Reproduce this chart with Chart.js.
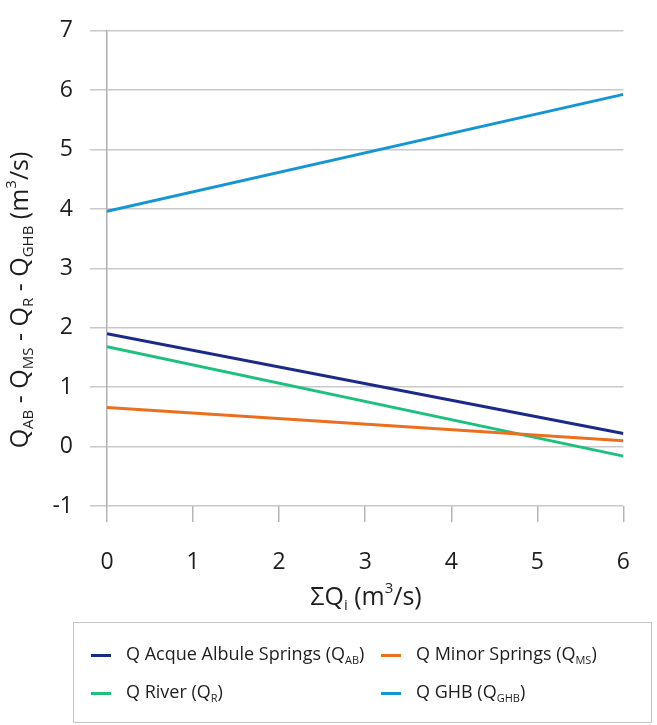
<!DOCTYPE html>
<html>
<head>
<meta charset="utf-8">
<script src="https://cdn.jsdelivr.net/npm/chart.js@4"></script>
<style>
  body { margin: 0; background: #fff; }
  #wrap { position: relative; width: 657px; height: 725px; }
  #legend {
    position: absolute; left: 73px; top: 622px; width: 579px; height: 101px;
    border: 1.5px solid #c4c4c4; box-sizing: border-box;
    font-family: "Open Sans", sans-serif; font-size: 18px; color: #1e1e1e;
  }
  .item { position: absolute; white-space: nowrap; line-height: 24px; }
  .sw { display: inline-block; width: 20px; height: 3px; vertical-align: middle; margin-right: 15px; }
  sub { font-size: 11px; vertical-align: -4px; }
</style>
</head>
<body>
<div id="wrap">
  <canvas id="myChart" width="657" height="725"></canvas>
  <div id="legend"></div>
</div>
<script>
// values (lines are straight, so two ends each)
const xValues = [0, 6];
const qAB = [1.9, 0.22];
const qMS = [0.66, 0.1];
const qR = [1.68, -0.16];
const qGHB = [3.96, 5.93];

const seriesNames = ["Q Acque Albule Springs", "Q Minor Springs", "Q River", "Q GHB"];
const seriesSubs = ["AB", "MS", "R", "GHB"];
const seriesColors = ["#1b2a88", "#ea7020", "#1fc07f", "#1795d3"];
const seriesData = [qAB, qMS, qR, qGHB];

const xTicks = [0, 1, 2, 3, 4, 5, 6];
const yTicks = [-1, 0, 1, 2, 3, 4, 5, 6, 7];

const FONT = '"Open Sans", sans-serif';

// draws text made of pieces, some of them sub/superscript
function drawRich(ctx, parts, size) {
    let total = 0;
    parts.forEach(p => {
        ctx.font = (p[1] ? Math.round(size * 0.6) : size) + 'px ' + FONT;
        p.w = ctx.measureText(p[0]).width;
        total += p.w;
    });
    let x = -total / 2;
    parts.forEach(p => {
        ctx.font = (p[1] ? Math.round(size * 0.6) : size) + 'px ' + FONT;
        let dy = 0;
        if (p[1] === 'sub') dy = size * 0.3;
        if (p[1] === 'sup') dy = -size * 0.38;
        ctx.fillText(p[0], x, dy);
        x += p.w;
    });
}

const titlesPlugin = {
    id: 'titles',
    afterDraw(chart) {
        const ctx = chart.ctx;
        ctx.save();
        ctx.fillStyle = '#1e1e1e';
        ctx.textBaseline = 'middle';
        ctx.textAlign = 'left';
        // y axis title
        ctx.save();
        ctx.translate(21, 300);
        ctx.rotate(-Math.PI / 2);
        const yParts = [['Q'], ['AB', 'sub'], [' - Q'], ['MS', 'sub'], [' - Q'], ['R', 'sub'],
            [' - Q'], ['GHB', 'sub'], [' (m'], ['3', 'sup'], ['/s)']];
        drawRich(ctx, yParts, 25);
        ctx.restore();
        // x axis title
        ctx.save();
        ctx.translate(366, 598);
        drawRich(ctx, [['\u03A3Q'], ['i', 'sub'], [' (m'], ['3', 'sup'], ['/s)']], 25);
        ctx.restore();
        ctx.restore();
    }
};

const data = {
    datasets: seriesData.map((vals, i) => ({
        label: seriesNames[i] + ' (Q' + seriesSubs[i] + ')',
        data: xValues.map((x, j) => ({ x: x, y: vals[j] })),
        borderColor: seriesColors[i],
        backgroundColor: seriesColors[i],
        borderWidth: 3,
        pointRadius: 0,
        tension: 0
    }))
};

const config = {
    type: 'line',
    data,
    options: {
        responsive: false,
        animation: false,
        layout: { padding: { left: 0, right: 30, top: 17, bottom: 0 } },
        plugins: { legend: { display: false }, tooltip: { enabled: false } },
        scales: {
            x: {
                type: 'linear', min: 0, max: 6,
                afterBuildTicks: s => { s.ticks = xTicks.map(v => ({ value: v })); },
                afterFit: s => { s.height = 219; },
                grid: { drawOnChartArea: false, drawTicks: true, tickLength: 16, color: '#b5b5b5', lineWidth: 1.5 },
                border: { display: false },
                ticks: { padding: 27, color: '#1e1e1e', font: { family: FONT, size: 23 } }
            },
            y: {
                min: -1, max: 7,
                afterBuildTicks: s => { s.ticks = yTicks.map(v => ({ value: v })); },
                afterFit: s => { s.width = 107; },
                grid: { color: '#c9c9c9', lineWidth: 1.5, tickLength: 17 },
                border: { display: true, color: '#b0b0b0', width: 1.5 },
                ticks: { padding: 17, color: '#1e1e1e', font: { family: FONT, size: 23 } }
            }
        }
    },
    plugins: [titlesPlugin]
};

new Chart(document.getElementById('myChart'), config);

// legend box with real subscripts
const legendPos = [[17, 18], [307, 18], [17, 56], [307, 56]];
const legend = document.getElementById('legend');
seriesNames.forEach((name, i) => {
    const div = document.createElement('div');
    div.className = 'item';
    div.style.left = legendPos[i][0] + 'px';
    div.style.top = legendPos[i][1] + 'px';
    div.innerHTML = `<span class="sw" style="background:${seriesColors[i]}"></span>${name} (Q<sub>${seriesSubs[i]}</sub>)`;
    legend.appendChild(div);
});
</script>
</body>
</html>
